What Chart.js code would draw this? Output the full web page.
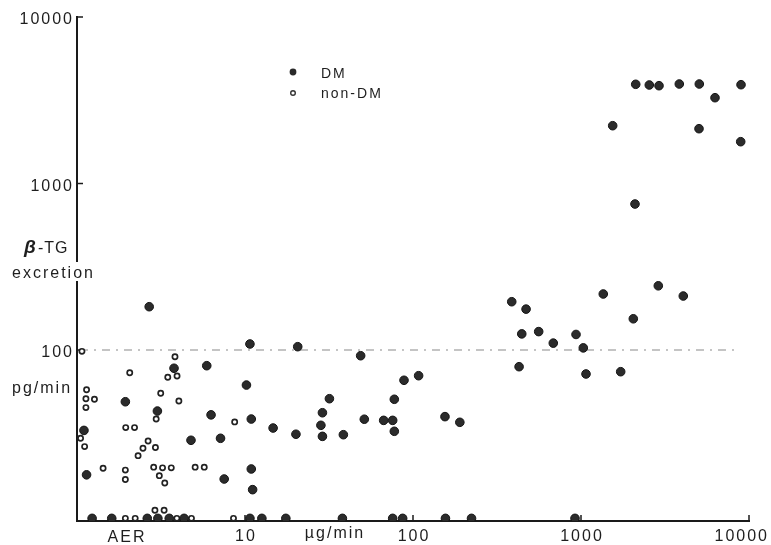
<!DOCTYPE html>
<html>
<head>
<meta charset="utf-8">
<script src="https://cdn.jsdelivr.net/npm/chart.js@4"></script>
<style>
html,body{margin:0;padding:0;background:#fff;}
canvas{display:block;}
</style>
</head>
<body>
<canvas id="c" width="771" height="545"></canvas>
<script>
// ---- data (AER in µg/min, β-TG excretion in pg/min) ----
const dmX = [2.69,10.7,3.78,5.92,10.2,1.94,3.01,6.28,10.9,1.10,4.77,7.15,1.14,10.9,7.52,11.1,
  20.6,48.8,108,88.4,31.8,77.4,28.9,51.3,66.9,75.7,155,190,14.7,28.3,77.4,20.1,28.9,38.5,
  387,471,1357,2885,4063,2048,444,560,934,684,1032,428,1071,1723,
  2117,2550,2913,3847,5061,8964,6276,1544,5040,8926,2096,
  1.23,1.61,2.62,3.03,3.54,4.34,10.7,12.6,17.5,38.0,75.7,86.8,156,223,921];
const dmY = [182,108.7,77.7,80.5,61.6,48.9,43.0,40.8,38.5,32.9,28.7,29.5,17.8,19.3,16.8,14.5,
  104.7,92.4,70.1,65.8,51.0,50.6,42.0,38.4,37.8,37.8,39.8,36.8,34.0,35.3,32.5,31.2,30.3,31.0,
  195,176,217,243,211,154,125,129,124,110,103,79.4,71.8,74.1,
  3943,3905,3868,3959,3959,3921,3276,2224,2134,1783,753,
  9.75,9.75,9.75,9.75,9.75,9.75,9.75,9.75,9.75,9.75,9.75,9.75,9.75,9.75,9.75];
const nonDmX = [1.07,3.83,2.06,3.47,3.94,1.14,3.15,1.13,1.27,1.13,4.04,2.96,8.68,1.95,2.20,1.05,
  2.65,2.47,2.93,1.11,2.31,1.43,1.94,2.86,3.23,3.64,5.05,5.72,1.94,3.09,3.33,2.91,3.30,
  1.94,2.22,3.93,4.80,8.54];
const nonDmY = [98.2,91.1,73.1,68.6,69.8,57.7,55.0,51.0,50.6,45.1,49.4,38.5,37.0,34.2,34.2,29.5,
  28.4,25.7,26.0,26.3,23.2,19.5,19.0,19.8,19.6,19.6,19.8,19.8,16.7,17.6,15.9,10.9,10.9,
  9.75,9.75,9.75,9.75,9.75];
const xTickValues = [10, 100, 1000, 10000];
const xTickLabels = ['10', '100', '1000', '10000'];
const yTickValues = [100, 1000, 10000];
const yTickLabels = ['100', '1000', '10000'];
const referenceLevel = 100;
const seriesNames = ['DM', 'non-DM'];

const toPoints = (xs, ys) => xs.map((x, i) => ({x: x, y: ys[i]}));

const INK = '#1e1e1e';
const FONT = '"Liberation Sans", Arial, sans-serif';

function txt(ctx, s, x, y, align, size, spacing, style) {
  ctx.save();
  ctx.font = (style || '') + ' ' + size + 'px ' + FONT;
  ctx.letterSpacing = (spacing || 0) + 'px';
  ctx.fillStyle = INK;
  ctx.textAlign = align;
  ctx.textBaseline = 'alphabetic';
  ctx.fillText(s, x, y);
  const w = ctx.measureText(s).width;
  ctx.restore();
  return w;
}

const decor = {
  id: 'decor',
  beforeDatasetsDraw(chart) {
    const ctx = chart.ctx, xs = chart.scales.x, ys = chart.scales.y, a = chart.chartArea;
    // reference dashed line
    const yr = ys.getPixelForValue(referenceLevel);
    ctx.save();
    ctx.strokeStyle = '#8a8a8a';
    ctx.lineWidth = 1.2;
    ctx.setLineDash([8, 6, 2, 6]);
    ctx.beginPath();
    ctx.moveTo(a.left + 3, yr);
    ctx.lineTo(xs.getPixelForValue(8200), yr);
    ctx.stroke();
    ctx.restore();

    // axes
    ctx.save();
    ctx.strokeStyle = '#1a1a1a';
    ctx.lineWidth = 2;
    ctx.beginPath();
    ctx.moveTo(a.left, ys.getPixelForValue(10000) - 1);
    ctx.lineTo(a.left, a.bottom);
    ctx.lineTo(xs.getPixelForValue(10000) + 1, a.bottom);
    ctx.stroke();
    ctx.lineWidth = 1.5;
    yTickValues.forEach(v => {
      const y = ys.getPixelForValue(v);
      ctx.beginPath(); ctx.moveTo(a.left, y); ctx.lineTo(a.left + 6, y); ctx.stroke();
    });
    xTickValues.forEach(v => {
      const x = xs.getPixelForValue(v);
      ctx.beginPath(); ctx.moveTo(x, a.bottom); ctx.lineTo(x, a.bottom - 6); ctx.stroke();
    });
    ctx.restore();

    // y tick labels
    yTickValues.forEach((v, i) => {
      txt(ctx, yTickLabels[i], a.left - 3, ys.getPixelForValue(v) + 7, 'right', 16, 2);
    });
    // x tick labels
    xTickValues.forEach((v, i) => {
      const x = xs.getPixelForValue(v);
      if (i === xTickValues.length - 1) {
        txt(ctx, xTickLabels[i], x + 20, a.bottom + 20, 'right', 16, 2);
      } else {
        txt(ctx, xTickLabels[i], x + 1, a.bottom + 20, 'center', 16, 2);
      }
    });
    // axis titles
    txt(ctx, 'AER', 127, a.bottom + 21, 'center', 16, 2);
    txt(ctx, 'µg/min', 335, a.bottom + 17, 'center', 16, 2);

    // y title with white background (breaks the axis line)
    ctx.save();
    ctx.fillStyle = '#fff';
    ctx.fillRect(10, 262, 90, 19);
    ctx.restore();
    txt(ctx, 'β', 24, 253, 'left', 19, 0, 'italic bold');
    txt(ctx, '-TG', 38, 253, 'left', 16, 1);
    txt(ctx, 'excretion', 12, 278, 'left', 16, 2);
    txt(ctx, 'pg/min', 12, 393, 'left', 16, 2);

    // legend
    ctx.save();
    ctx.fillStyle = '#2a2a2a';
    ctx.beginPath(); ctx.arc(293, 72, 3.4, 0, Math.PI * 2); ctx.fill();
    ctx.strokeStyle = '#333'; ctx.lineWidth = 1.4;
    ctx.beginPath(); ctx.arc(293, 93, 2.3, 0, Math.PI * 2); ctx.stroke();
    ctx.restore();
    txt(ctx, seriesNames[0], 321, 78, 'left', 14, 2);
    txt(ctx, seriesNames[1], 321, 98, 'left', 14, 2);
  }
};

new Chart(document.getElementById('c'), {
  type: 'scatter',
  data: {
    datasets: [
      {
        label: seriesNames[0],
        data: toPoints(dmX, dmY),
        pointStyle: 'circle',
        pointRadius: 4.3,
        backgroundColor: '#2b2b2b',
        borderColor: '#151515',
        borderWidth: 1
      },
      {
        label: seriesNames[1],
        data: toPoints(nonDmX, nonDmY),
        pointStyle: 'circle',
        pointRadius: 2.6,
        backgroundColor: '#ffffff',
        borderColor: '#222222',
        borderWidth: 1.7
      }
    ]
  },
  options: {
    responsive: false,
    animation: false,
    devicePixelRatio: 1,
    layout: { padding: { left: 77, right: 22, top: 17, bottom: 24 } },
    scales: {
      x: { type: 'logarithmic', min: 1, max: 10000, display: false },
      y: { type: 'logarithmic', min: 9.4, max: 10000, display: false }
    },
    plugins: { legend: { display: false }, tooltip: { enabled: false } },
    elements: { point: { hoverRadius: 4 } }
  },
  plugins: [decor]
});
</script>
</body>
</html>
